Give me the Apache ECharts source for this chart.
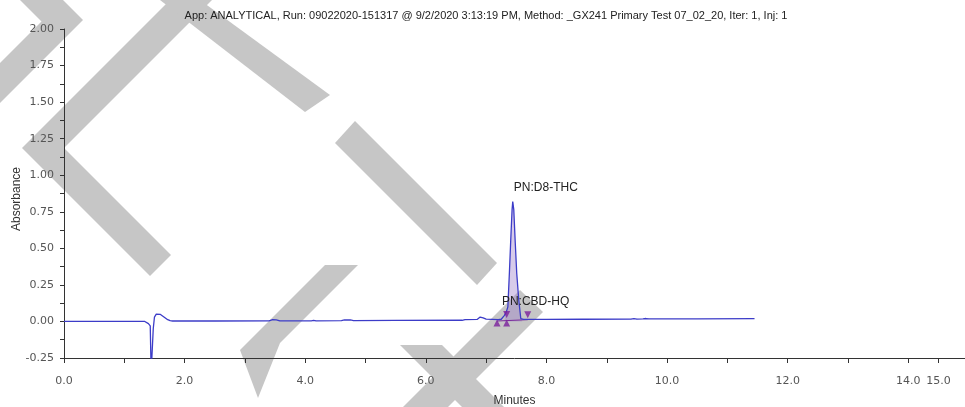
<!DOCTYPE html>
<html>
<head>
<meta charset="utf-8">
<script src="https://cdn.jsdelivr.net/npm/echarts@6/dist/echarts.min.js"></script>
<style>
html,body{margin:0;padding:0;background:#fff;}
#c{width:965px;height:407px;}
</style>
</head>
<body>
<div id="c"></div>
<script>
const titleText = 'App: ANALYTICAL, Run: 09022020-151317 @ 9/2/2020 3:13:19 PM, Method: _GX241 Primary Test 07_02_20, Iter: 1, Inj: 1';
const xTicks = [0,1,2,3,4,5,6,7,8,9,10,11,12,13,14,14.5];
const xLabelValues = [0,2,4,6,8,10,12,14,14.5];
// trace: [minutes, absorbance]
const trace = [
  [0,0.000],[0.5,0.000],[1.0,0.000],[1.34,0.000],[1.37,-0.004],[1.40,-0.015],[1.43,-0.03],
  [1.445,-0.35],[1.465,-0.35],[1.48,-0.05],[1.50,0.03],[1.53,0.05],[1.56,0.055],[1.60,0.048],
  [1.64,0.036],[1.68,0.024],[1.72,0.012],[1.76,0.005],[1.80,0.003],[2.5,0.003],[3.40,0.004],
  [3.46,0.012],[3.52,0.011],[3.58,0.004],[4.10,0.004],[4.14,0.007],[4.18,0.004],[4.60,0.005],
  [4.65,0.010],[4.75,0.010],[4.80,0.006],[5.5,0.007],[6.60,0.008],[6.65,0.012],[6.85,0.014],
  [6.90,0.030],[6.95,0.025],[7.00,0.016],[7.10,0.014],[7.20,0.012],[7.25,0.015],[7.30,0.04],
  [7.33,0.06],[7.36,0.10],[7.385,0.33],[7.408,0.56],[7.43,0.765],[7.441,0.82],[7.458,0.765],
  [7.48,0.56],[7.507,0.33],[7.54,0.15],[7.574,0.02],[7.62,0.014],[8.0,0.014],[8.6,0.015],
  [9.4,0.016],[9.45,0.020],[9.5,0.016],[9.6,0.018],[9.65,0.020],[9.7,0.017],[10.5,0.018],[11.45,0.019]
];
const peakFill = [
  [7.30,0.0],[7.33,0.06],[7.36,0.10],[7.385,0.33],[7.408,0.56],[7.43,0.765],[7.441,0.82],[7.458,0.765],
  [7.48,0.56],[7.507,0.33],[7.54,0.15],[7.574,0.02],[7.60,0.0]
];
const baselineSeg = [[7.18,0.003],[7.69,0.012]];
const upMarks = [[7.18,-0.01],[7.34,-0.01]];
const downMarks = [[7.34,0.048],[7.69,0.045]];
const peakLabels = [
  {name:'PN:D8-THC', coord:[7.99,0.915]},
  {name:'PN:CBD-HQ', coord:[7.82,0.137]}
];

// watermark (decorative grey bands, pixel polygons)
const watermark = [
  [[20,0],[63,0],[83,20],[0,103],[0,63],[41.5,21.5]],
  [[22,148],[170,0],[212,0],[64,148]],
  [[22,148],[64,148],[171,255],[150,276]],
  [[160,0],[200,0],[330,95],[305,112]],
  [[355,121],[497,263],[477,285],[335,143]],
  [[325,265],[358,265],[280,343],[258,398],[240,350]],
  [[520,290],[543,312],[448,407],[403,407]],
  [[400,345],[442,345],[504,407],[462,407]]
];

const chart = echarts.init(document.getElementById('c'), null, {renderer:'canvas'});
const font = 'DejaVu Sans';
chart.setOption({
  animation:false,
  backgroundColor:'#fff',
  graphic: watermark.map(pts=>({type:'polygon',z:-100,silent:true,
    shape:{points:pts},style:{fill:'#c6c6c6'}})).concat([
    {type:'text',x:17,y:199,rotation:Math.PI/2,z:10,silent:true,
     style:{text:'Absorbance',align:'center',verticalAlign:'middle',
       font:'12px "Liberation Sans"',fill:'#333'}}
  ]),
  title:{text:titleText,left:481,top:5,textAlign:'center',
    textStyle:{fontFamily:'Liberation Sans',fontSize:11,fontWeight:'normal',color:'#222'}},
  grid:{left:64,right:0,top:29,bottom:49,outerBoundsMode:'none'},
  xAxis:{type:'value',min:0,max:14.94,
    name:'Minutes',nameLocation:'middle',nameGap:37,
    nameTextStyle:{fontFamily:'Liberation Sans',fontSize:12,color:'#333'},
    axisLine:{onZero:false,lineStyle:{color:'#333',width:1}},
    axisTick:{customValues:xTicks,length:5,lineStyle:{color:'#333'}},
    axisLabel:{customValues:xLabelValues,margin:18,fontFamily:font,fontSize:11,color:'#555',
      formatter:v=> v===14.5 ? '15.0' : v.toFixed(1)},
    splitLine:{show:false}},
  yAxis:{type:'value',min:-0.25,max:2.0,interval:0.25,
    axisLine:{show:true,onZero:false,lineStyle:{color:'#333',width:1}},
    axisTick:{show:true,length:4,lineStyle:{color:'#333'}},
    minorTick:{show:true,splitNumber:2,length:4,lineStyle:{color:'#333'}},
    axisLabel:{margin:10,fontFamily:font,fontSize:11,color:'#555',formatter:v=>v.toFixed(2)},
    splitLine:{show:false}},
  series:[
    {type:'line',data:peakFill,symbol:'none',lineStyle:{width:0},
     areaStyle:{color:'rgba(150,120,200,0.55)',origin:0},z:1,silent:true},
    {type:'line',data:baselineSeg,symbol:'none',lineStyle:{color:'#7a2a9a',width:1},z:2},
    {type:'line',data:trace,symbol:'none',lineStyle:{color:'#3c3cc8',width:1.3},z:3,
     markPoint:{symbol:'circle',symbolSize:0,
       label:{show:true,color:'#222',fontFamily:'Liberation Sans',fontSize:12,formatter:p=>p.name},
       data:peakLabels}},
    {type:'scatter',data:upMarks,symbol:'triangle',symbolSize:7,itemStyle:{color:'#7a1f9c'},z:4},
    {type:'scatter',data:downMarks,symbol:'triangle',symbolRotate:180,symbolSize:7,itemStyle:{color:'#7a1f9c'},z:4}
  ]
});
</script>
</body>
</html>
